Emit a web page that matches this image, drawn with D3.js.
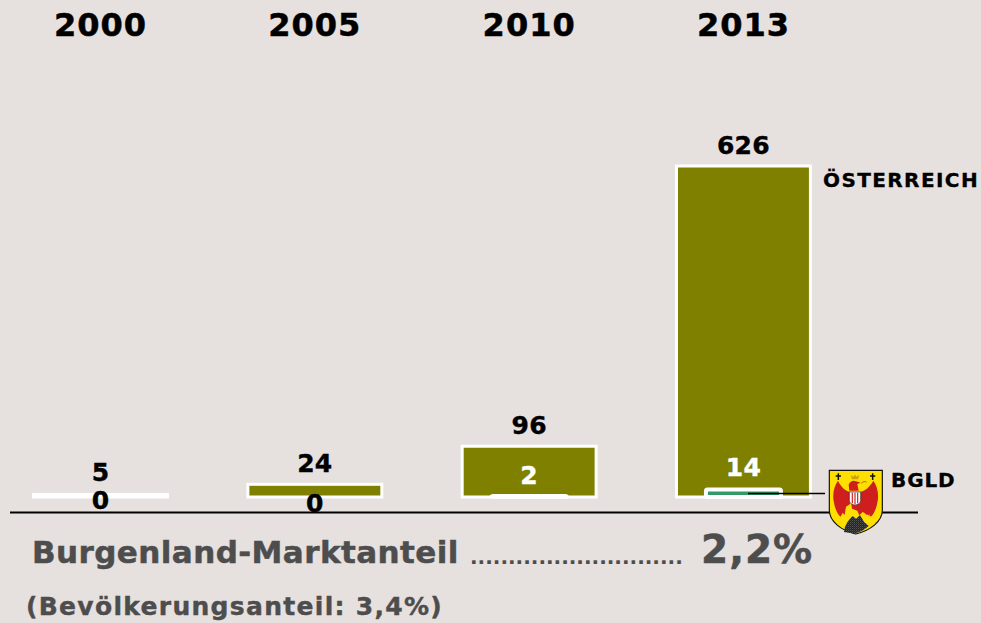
<!DOCTYPE html>
<html><head><meta charset="utf-8">
<script src="https://cdn.jsdelivr.net/npm/d3@7"></script>
<style>html,body{margin:0;padding:0;background:#e6e0de}svg{display:block}text{font-family:"DejaVu Sans",sans-serif;font-weight:bold}</style>
</head><body><div id="c"></div>
<script>
const years=["2000","2005","2010","2013"];
const oesterreich=[5,24,96,626];
const burgenland=[0,0,2,14];
const oeLabels=["5","24","96","626"];
const bgLabels=["0","0","2","14"];
const W=981,H=623;
const svg=d3.select("#c").append("svg").attr("width",W).attr("height",H);
svg.append("rect").attr("width",W).attr("height",H).attr("fill","#e6e0de");
const x=d3.scaleBand().domain(years).range([-6.6,850.6]).paddingInner(0.375).paddingOuter(0.1875);
const y=d3.scaleLinear().domain([0,626]).range([497,166]);
const cx=d=>x(d)+x.bandwidth()/2;
const ix=years.map((d,i)=>i);
function label(sel,size,fill,ls,sw){return sel.attr("font-size",size).attr("fill",fill).attr("letter-spacing",ls).attr("stroke",fill).attr("stroke-width",sw);}
// headers
label(svg.selectAll("text.yr").data(years).join("text").attr("class","yr")
 .attr("x",cx).attr("y",36).attr("text-anchor","middle"),32,"#000",1,0.5).text(d=>d);
// baseline
svg.append("line").attr("x1",10).attr("x2",918).attr("y1",512.5).attr("y2",512.5).attr("stroke","#000").attr("stroke-width",1.8);
// main bars
svg.selectAll("rect.oe").data(ix).join("rect").attr("class","oe")
 .attr("x",i=>x(years[i])).attr("width",x.bandwidth())
 .attr("y",i=>y(oesterreich[i])).attr("height",i=>Math.max(0,y(0)-y(oesterreich[i])))
 .attr("fill",i=>i===0?"#fff":"#808000").attr("stroke","#fff").attr("stroke-width",3);
// inner bars
const inner=d3.scaleBand().domain(years).range([-6.6,850.6]).paddingInner(0.65).paddingOuter(0.325);
svg.selectAll("rect.bg").data(ix.filter(i=>burgenland[i]>0)).join("rect").attr("class","bg")
 .attr("x",i=>inner(years[i])).attr("width",inner.bandwidth())
 .attr("y",i=>y(burgenland[i])).attr("height",i=>y(0)-y(burgenland[i]))
 .attr("fill",i=>i===3?"#339966":"#fff").attr("stroke","#fff").attr("stroke-width",4).attr("rx",1.5);
// leader
svg.append("line").attr("x1",748).attr("x2",825).attr("y1",493.5).attr("y2",493.5).attr("stroke","#000").attr("stroke-width",1.6);
// value labels
const oeOff=[-13,-12.5,-12,-12];
label(svg.selectAll("text.oev").data(ix).join("text").attr("class","oev")
 .attr("x",i=>cx(years[i])).attr("y",i=>y(oesterreich[i])+oeOff[i]).attr("text-anchor","middle"),25,"#000",0.3,0.4).text(i=>oeLabels[i]);
const bgY=[509,512,484,476];
svg.selectAll("text.bgv").data(ix).join("text").attr("class","bgv")
 .attr("x",i=>cx(years[i])).attr("y",i=>bgY[i]).attr("text-anchor","middle")
 .attr("font-size",25).attr("letter-spacing",0.3).attr("fill",i=>i<2?"#000":"#fff").attr("stroke",i=>i<2?"#000":"#fff").attr("stroke-width",0.4).text(i=>bgLabels[i]);
// series labels
label(svg.append("text").attr("x",823).attr("y",187),20,"#000",1.4,0.3).text("ÖSTERREICH");
label(svg.append("text").attr("x",891).attr("y",487),20,"#000",0.9,0.3).text("BGLD");
// bottom text
label(svg.append("text").attr("x",32).attr("y",563),31,"#4d4d4d",0.42,0.5).text("Burgenland-Marktanteil");
label(svg.append("text").attr("x",470).attr("y",564),20,"#4d4d4d",0,0).text("............................");
label(svg.append("text").attr("x",701).attr("y",563),39,"#4d4d4d",1,0.5).text("2,2%");
label(svg.append("text").attr("x",26).attr("y",615),25,"#4d4d4d",1.3,0.4).text("(Bevölkerungsanteil: 3,4%)");
// crest (drawn in 3x coordinates)
const c=svg.append("g").attr("transform","translate(829,470) scale(0.3333) translate(-27,-30)");
const defs=svg.append("defs");
const pat=defs.append("pattern").attr("id","rock").attr("width",6).attr("height",6).attr("patternUnits","userSpaceOnUse");
pat.append("rect").attr("width",6).attr("height",6).attr("fill","#262626");
pat.append("rect").attr("x",1).attr("y",1).attr("width",2).attr("height",2).attr("fill","#8a8a8a");
pat.append("rect").attr("x",4).attr("y",4).attr("width",1.5).attr("height",1.5).attr("fill","#666");
c.append("path").attr("d","M28,31H187V150C187,185 150,212 107,222C65,212 28,185 28,150Z").attr("fill","#ffdf00").attr("stroke","#111").attr("stroke-width",3.5);
c.append("path").attr("d","M72,216C74,195 85,180 98,168L108,176L120,165L132,185L146,198C135,208 122,216 107,220C95,218 83,218 72,216Z").attr("fill","url(#rock)");
const red="#cf1e1e";
c.append("path").attr("d","M54,62C42,78 36,105 42,128C46,150 54,165 62,170L68,158L74,165L78,140L90,132L88,95C76,92 62,80 54,62Z").attr("fill",red);
c.append("path").attr("d","M160,62C172,78 178,105 172,128C168,150 160,165 152,170L146,158L138,165L130,140L120,132L122,95C136,92 150,80 160,62Z").attr("fill",red);
c.append("path").attr("d","M88,92L86,74C90,64 100,60 108,64L122,68L112,72L116,92Z").attr("fill",red);
c.append("path").attr("d","M94,130L120,130C132,140 146,150 150,168L128,156L118,166L112,152L96,146Z").attr("fill",red);
c.append("path").attr("d","M96,58L92,45L100,50L105,44L110,50L118,45L114,58Z").attr("fill","#d0a010");
c.append("path").attr("d","M124,70C130,64 135,64 140,66").attr("stroke","#a07000").attr("stroke-width",3).attr("fill","none");
c.append("path").attr("d","M88,96H122V122C122,130 112,134 105,136C98,134 88,130 88,122Z").attr("fill","#fff").attr("stroke","#222").attr("stroke-width",2);
c.append("path").attr("d","M97,98V130M105,98V134M113,98V130").attr("stroke",red).attr("stroke-width",3.5);
c.append("path").attr("d","M55,40V60M47,48H63M158,40V60M150,48H166").attr("stroke","#111").attr("stroke-width",4.5).attr("fill","none");
</script></body></html>
